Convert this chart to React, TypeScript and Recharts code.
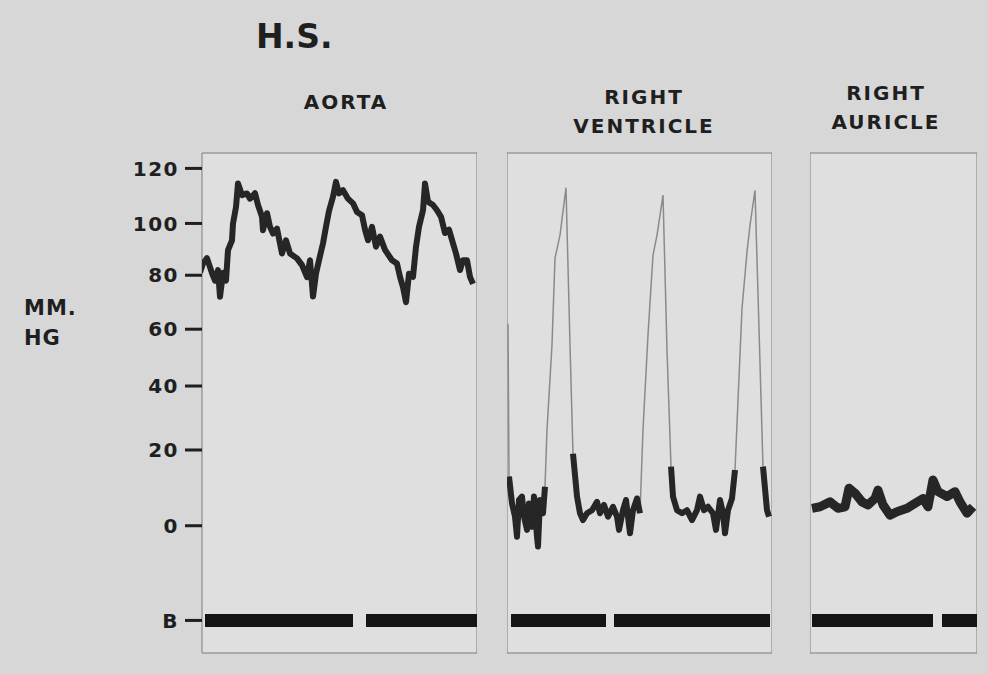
import React from 'react';
import { LineChart, Line, XAxis, YAxis, CartesianGrid, ReferenceArea } from 'recharts';

// Manometer calibration: mmHg marks and their relative deflection on the film (0 -> 0, 120 -> 1)
const CAL_MMHG = [0, 20, 40, 60, 80, 100, 120];
const CAL_DEFLECTION = [0, 0.212, 0.391, 0.55, 0.701, 0.846, 1];

const Y_TICKS = [-25, 0, 20, 40, 60, 80, 100, 120];
const B_LEVEL = -25; // electrical base line "B"
const Y_MIN = -33.6;
const Y_MAX = 125.6;

// Aorta (time in arbitrary film units, pressure in mmHg)
const aortaT = [0, 3, 7, 12, 15, 18, 20, 23, 26, 28, 32, 33, 36, 38, 42, 47, 50, 55, 58, 62, 63, 67, 70, 73, 77, 82, 86, 90, 97, 102, 107, 110, 113, 116, 119, 123, 126, 129, 133, 136, 139, 143, 148, 153, 157, 162, 165, 168, 172, 176, 180, 185, 192, 197, 200, 203, 206, 209, 213, 216, 219, 223, 225, 228, 233, 237, 241, 245, 249, 253, 256, 260, 263, 267, 270, 273];
const aortaP = [81, 84.5, 86.6, 80.8, 78, 82, 72, 81, 78, 89.7, 93.5, 100, 106, 114.5, 110.3, 110.9, 109, 111, 106.7, 102.4, 97.4, 103.7, 98.7, 96.1, 98, 88.4, 93.5, 88.4, 86.5, 83.9, 79.3, 85.8, 72.1, 80.6, 85.8, 92.3, 98.7, 104.5, 109.7, 115.1, 110.9, 112.1, 109, 107.3, 104.2, 103, 97.6, 93.5, 98.7, 91, 94.9, 89.8, 85.8, 84.5, 79.4, 75.6, 70, 80.6, 79.4, 91, 98.7, 104.8, 114.5, 107.9, 106.7, 104.8, 102.4, 96.3, 97.6, 92.3, 88.4, 82, 85.8, 85.8, 79.4, 76.8];
const aortaB = [[5, 153], [166, 277]];

// Right ventricle
const rvT = [1, 2, 5, 8, 10, 12, 15, 17, 20, 22, 25, 27, 30, 31, 33, 36, 38, 40, 45, 48, 53, 59, 63, 66, 70, 73, 76, 80, 85, 90, 93, 97, 101, 106, 110, 112, 116, 119, 123, 126, 130, 133, 136, 141, 146, 150, 156, 160, 164, 166, 170, 175, 180, 185, 190, 193, 197, 201, 206, 209, 213, 216, 218, 221, 225, 228, 230, 235, 240, 243, 248, 256, 260, 262];
const rvP = [62, 13, 5.9, 2.4, -2.9, 6.8, 7.7, 2.4, -1.1, 5.9, -0.3, 7.7, -2.9, -5.5, 6.8, 3.3, 10.3, 26.3, 54.5, 86.6, 95.5, 113, 54.5, 19, 7.7, 3.3, 1.5, 3.3, 4.1, 6.3, 3.3, 5.5, 2.4, 5, 2.4, -1.1, 4.1, 6.8, -2, 4.1, 7.2, 3.3, 26.3, 58, 87.7, 95.5, 110.3, 52.7, 15.6, 7.7, 4.1, 3.3, 4.1, 1.5, 4.1, 7.7, 4.1, 5, 3.3, -1.1, 6.8, 3.3, -2, 4.1, 7.2, 14.7, 28.3, 67.7, 89, 99.3, 112, 15.6, 4.1, 2.4];
const rvB = [[4, 99], [107, 263]];

// Right auricle
const raT = [2, 10, 20, 28, 35, 39, 45, 52, 58, 65, 68, 73, 80, 87, 97, 105, 113, 118, 123, 128, 137, 145, 150, 157, 163];
const raP = [4.6, 5, 6.3, 4.6, 5, 9.9, 8.6, 6.3, 5.5, 7.2, 9.4, 5.5, 2.8, 3.7, 4.6, 5.9, 7.2, 5, 12.1, 9, 7.7, 9, 6.3, 3.3, 5];
const raB = [[2, 123], [132, 167]];

const INK = '#1f1f1f';
const FONT = '"DejaVu Sans", sans-serif';

// piecewise-linear scale following the manometer calibration
function interp(v: number, xs: number[], ys: number[]) {
  const n = xs.length;
  let i = 0;
  if (v >= xs[n - 1]) i = n - 2;
  else if (v > xs[0]) while (v > xs[i + 1]) i++;
  const f = (v - xs[i]) / (xs[i + 1] - xs[i]);
  return ys[i] + f * (ys[i + 1] - ys[i]);
}

function hgScale(): any {
  let dom = [0, 120];
  let rng = [0, 1];
  const span = () => [interp(dom[0], CAL_MMHG, CAL_DEFLECTION), interp(dom[1], CAL_MMHG, CAL_DEFLECTION)];
  const s: any = (v: any) => {
    if (v == null || Number.isNaN(Number(v))) return undefined;
    const [w0, w1] = span();
    const w = interp(Number(v), CAL_MMHG, CAL_DEFLECTION);
    return rng[0] + ((w - w0) / (w1 - w0)) * (rng[1] - rng[0]);
  };
  s.domain = (d?: any[]) => {
    if (d === undefined) return dom.slice();
    dom = d.map(Number);
    return s;
  };
  s.range = (r?: any[]) => {
    if (r === undefined) return rng.slice();
    rng = r.map(Number);
    return s;
  };
  s.invert = (px: number) => {
    const [w0, w1] = span();
    const w = w0 + ((px - rng[0]) / (rng[1] - rng[0])) * (w1 - w0);
    return interp(w, CAL_DEFLECTION, CAL_MMHG);
  };
  s.ticks = () => Y_TICKS.slice();
  s.tickFormat = () => (v: number) => String(v);
  s.copy = () => hgScale().domain(dom).range(rng);
  return s;
}

const toRows = (ts: number[], ps: number[]) => ts.map((t, i) => ({ t, p: ps[i], dark: ps[i] <= 22 ? ps[i] : null }));
const toBase = (runs: number[][]) =>
  runs.flatMap(([a, b]) => [
    { t: a, v: B_LEVEL },
    { t: b, v: B_LEVEL },
    { t: b, v: null },
  ]);

const Panel = ({ left, width, xDomain, rows, base, withAxis, thin, traceWidth }: any) => (
  <div style={{ position: 'absolute', left, top: 0 }}>
    <LineChart width={width} height={674} margin={{ top: 153, right: 0, bottom: 21, left: 0 }}>
      <CartesianGrid fill="#dfdfdf" horizontal={false} vertical={false} />
      <XAxis type="number" dataKey="t" domain={xDomain} allowDataOverflow hide />
      <YAxis
        type="number"
        scale={hgScale()}
        domain={[Y_MIN, Y_MAX]}
        allowDataOverflow
        ticks={Y_TICKS}
        interval={0}
        hide={!withAxis}
        width={withAxis ? 202 : 0}
        axisLine={false}
        tickSize={17}
        tickMargin={6}
        tickLine={{ stroke: INK, strokeWidth: 3 }}
        tickFormatter={(v: number) => (v === B_LEVEL ? 'B' : String(v))}
        tick={{ fill: INK, fontSize: 20, fontWeight: 700, fontFamily: FONT, letterSpacing: 1.5 }}
      />
      <ReferenceArea x1={xDomain[0]} x2={xDomain[1]} y1={Y_MIN} y2={Y_MAX} fill="none" stroke="#7d7d7d" strokeWidth={1} />
      <Line
        data={base}
        dataKey="v"
        stroke="#141414"
        strokeWidth={13}
        strokeLinecap="butt"
        dot={false}
        isAnimationActive={false}
      />
      {thin && (
        <Line data={rows} dataKey="p" stroke="#8a8a8a" strokeWidth={1.5} dot={false} isAnimationActive={false} />
      )}
      <Line
        data={rows}
        dataKey={thin ? 'dark' : 'p'}
        stroke="#262626"
        strokeWidth={traceWidth}
        strokeLinejoin="round"
        dot={false}
        isAnimationActive={false}
      />
    </LineChart>
  </div>
);

const label = (left: number, top: number, size: number, spacing: number, width?: number): React.CSSProperties => ({
  position: 'absolute',
  left,
  top,
  width,
  textAlign: width ? 'center' : 'left',
  fontFamily: FONT,
  fontWeight: 700,
  fontSize: size,
  letterSpacing: spacing,
  lineHeight: 1.45,
  color: INK,
  whiteSpace: 'nowrap',
});

export default function App() {
  return (
    <div style={{ position: 'absolute', left: 0, top: 0, width: 988, height: 674, background: '#d7d7d7', overflow: 'hidden' }}>
      <Panel left={0} width={477} xDomain={[2, 277]} rows={toRows(aortaT, aortaP)} base={toBase(aortaB)} withAxis traceWidth={6} />
      <Panel left={507} width={265} xDomain={[0, 265]} rows={toRows(rvT, rvP)} base={toBase(rvB)} thin traceWidth={6} />
      <Panel left={810} width={167} xDomain={[0, 167]} rows={toRows(raT, raP)} base={toBase(raB)} traceWidth={9} />

      <div style={label(256, 13, 33, 0)}>H.S.</div>
      <div style={label(246, 88, 20, 2, 200)}>AORTA</div>
      <div style={label(544, 83, 20, 2, 200)}>
        RIGHT
        <br />
        VENTRICLE
      </div>
      <div style={label(786, 79, 20, 2, 200)}>
        RIGHT
        <br />
        AURICLE
      </div>
      <div style={label(24, 293, 21, 1)}>
        MM.
        <br />
        HG
      </div>
    </div>
  );
}
